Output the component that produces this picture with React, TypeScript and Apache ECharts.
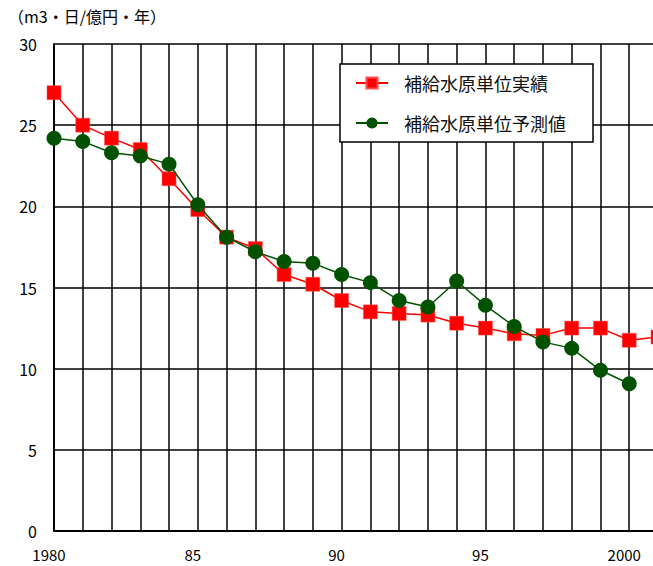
import React, { useEffect, useRef } from "react";
import * as echarts from "echarts";

const years = [1980, 1981, 1982, 1983, 1984, 1985, 1986, 1987, 1988, 1989, 1990, 1991, 1992, 1993, 1994, 1995, 1996, 1997, 1998, 1999, 2000, 2001];
const actual = [27.0, 25.0, 24.2, 23.5, 21.7, 19.8, 18.1, 17.4, 15.8, 15.2, 14.2, 13.5, 13.4, 13.3, 12.8, 12.5, 12.15, 12.05, 12.5, 12.5, 11.75, 11.95];
const forecast = [24.2, 24.0, 23.3, 23.1, 22.6, 20.1, 18.1, 17.2, 16.6, 16.5, 15.8, 15.3, 14.2, 13.8, 15.4, 13.9, 12.6, 11.65, 11.25, 9.9, 9.07];
const seriesNames = ["補給水原単位実績", "補給水原単位予測値"];
const xTickLabels: Record<number, string> = { 1980: "1980", 1985: "85", 1990: "90", 1995: "95", 2000: "2000" };
const unitLabel = "（m3・日/億円・年）";

const FONT = "'Noto Sans CJK JP', 'Noto Sans', sans-serif";

export default function App() {
  const ref = useRef<HTMLDivElement>(null);
  useEffect(() => {
    if (!ref.current) return;
    const chart = echarts.init(ref.current, undefined, { renderer: "svg" });
    chart.setOption({
      animation: false,
      backgroundColor: "#fff",
      textStyle: { fontFamily: FONT },
      graphic: [
        {
          type: "text",
          left: 8,
          top: 8,
          style: { text: unitLabel, fontSize: 16, fill: "#000", fontFamily: FONT },
        },
      ],
      grid: { left: 54, width: 604, top: 44, bottom: 35, containLabel: false, outerBoundsMode: "none" },
      legend: {
        orient: "vertical",
        left: 340,
        top: 64,
        backgroundColor: "#fff",
        borderColor: "#000",
        borderWidth: 1.5,
        borderRadius: 0,
        padding: [9, 27, 9, 15],
        itemGap: 20,
        itemWidth: 32,
        itemHeight: 14,
        textStyle: { fontSize: 18, color: "#111", fontFamily: FONT, padding: [0, 0, 0, 11], lineHeight: 20 },
        data: seriesNames,
      },
      xAxis: {
        type: "value",
        min: 1980,
        max: 2001,
        interval: 1,
        axisLine: { show: true, onZero: false, lineStyle: { color: "#000", width: 2 } },
        axisTick: { show: false },
        axisLabel: {
          color: "#000",
          fontSize: 15,
          lineHeight: 15,
          margin: 16,
          padding: [0, 10, 0, 0],
          fontFamily: FONT,
          formatter: (v: number) => xTickLabels[v] ?? "",
        },
        splitLine: { show: true, lineStyle: { color: "#000", width: 1.5 } },
      },
      yAxis: {
        type: "value",
        min: 0,
        max: 30,
        interval: 5,
        axisLine: { show: true, lineStyle: { color: "#000", width: 2 } },
        axisTick: { show: false },
        axisLabel: { color: "#000", fontSize: 16, margin: 17, fontFamily: FONT },
        splitLine: { show: true, lineStyle: { color: "#000", width: 1.5 } },
      },
      series: [
        {
          name: seriesNames[0],
          type: "line",
          data: actual.map((v, i) => [years[i], v]),
          symbol: "rect",
          symbolSize: 14,
          lineStyle: { color: "#ff0000", width: 1.5 },
          itemStyle: { color: "#ff0000", borderColor: "#ff5050", borderWidth: 0.5 },
          z: 3,
        },
        {
          name: seriesNames[1],
          type: "line",
          data: forecast.map((v, i) => [years[i], v]),
          symbol: "circle",
          symbolSize: 15,
          lineStyle: { color: "#005200", width: 1.5 },
          itemStyle: { color: "#005200" },
          z: 4,
        },
      ],
    });
    return () => chart.dispose();
  }, []);
  return (
    <div
      ref={ref}
      style={{ position: "absolute", left: 0, top: 0, width: 653, height: 566, overflow: "hidden" }}
    />
  );
}
